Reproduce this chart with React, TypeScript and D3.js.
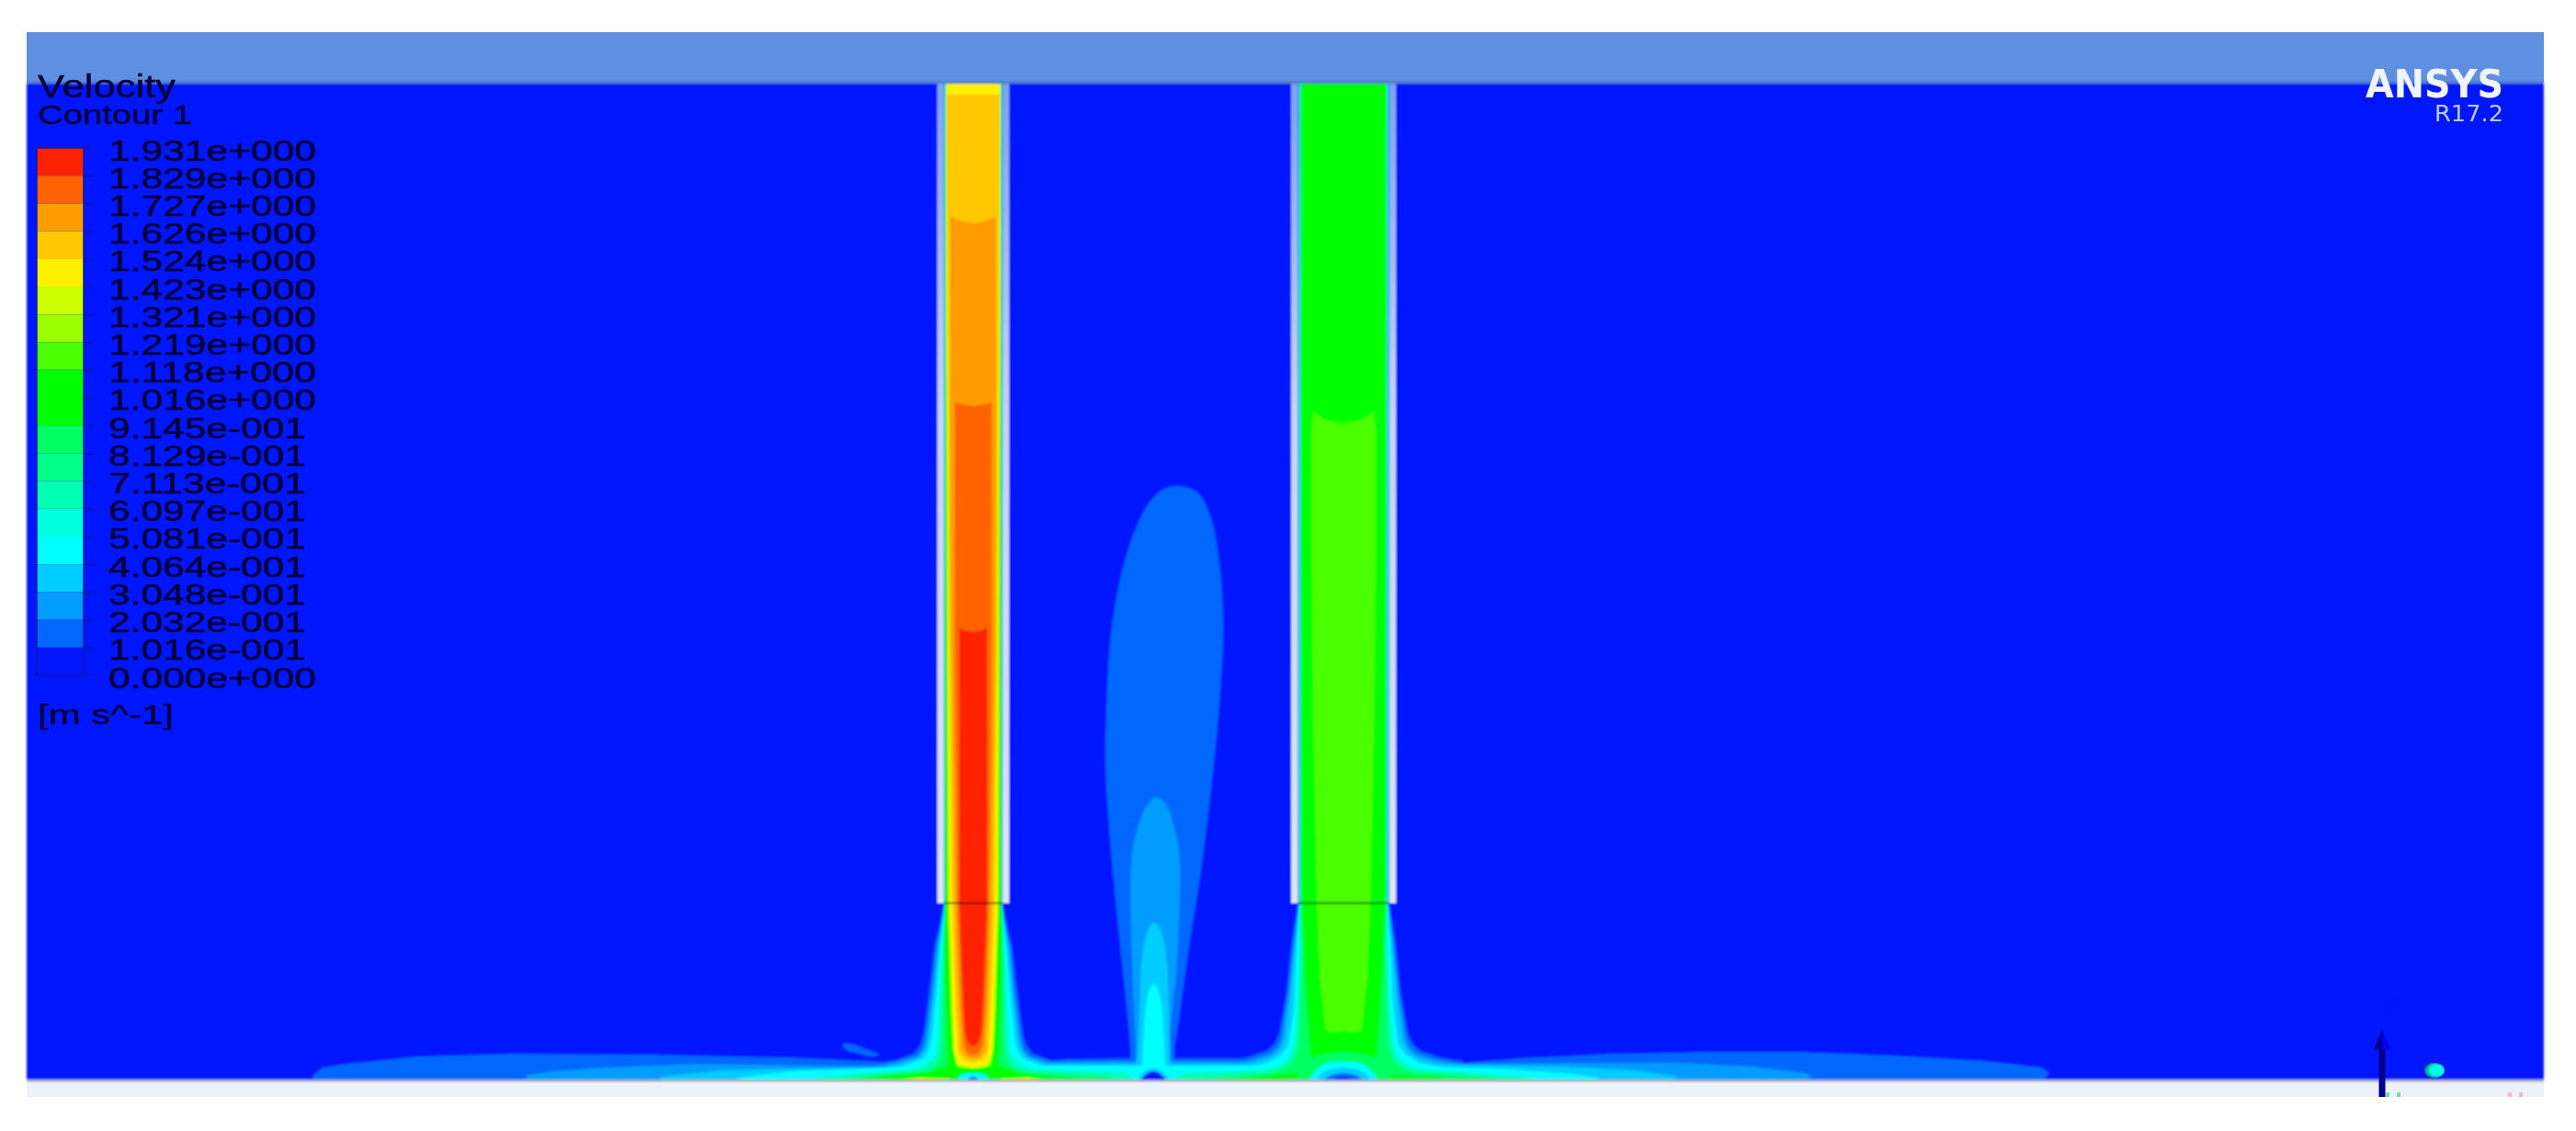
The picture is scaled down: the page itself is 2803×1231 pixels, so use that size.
import React, { useEffect, useRef } from 'react';
import * as d3 from 'd3';

type Pt = [number, number];

const width = 2803;
const height = 1231;

// legend, top to bottom
const legendLabels = [
  '1.931e+000', '1.829e+000', '1.727e+000', '1.626e+000', '1.524e+000',
  '1.423e+000', '1.321e+000', '1.219e+000', '1.118e+000', '1.016e+000',
  '9.145e-001', '8.129e-001', '7.113e-001', '6.097e-001', '5.081e-001',
  '4.064e-001', '3.048e-001', '2.032e-001', '1.016e-001', '0.000e+000',
];
const levels = legendLabels.map(Number);

// band colours, lowest velocity first
const bandColors = [
  '#0018ff', '#0068ff', '#009cff', '#00ccff', '#00ffff', '#00ffdc', '#00ffb0',
  '#00ff88', '#00ff60', '#00ff00', '#00ff00', '#48ff00', '#9cff00', '#ccff00',
  '#fff000', '#ffc800', '#ff9c00', '#ff6400', '#ff2000',
];

// domain extents, read in reference pixels
const domainX = [29, 2768];
const domainY = [90, 1176];
const floorBottom = 1194;
const frameTop = 35;

// jets: half width against y, one list per contour level
const leftJetCenter = 1059;
const leftJetBands: [number, Pt[]][] = [
  [1, [[31.5, 90], [31.5, 983], [36, 1005], [42, 1030], [48, 1080], [54, 1125], [58, 1138], [65, 1147], [85, 1154], [110, 1158], [110, 1180]]],
  [2, [[31.5, 90], [31.5, 983], [35, 1005], [40, 1030], [45, 1080], [52, 1130], [55, 1142], [62, 1150], [85, 1156], [105, 1160], [105, 1180]]],
  [3, [[31, 90], [31, 983], [34, 1005], [38, 1030], [43, 1080], [49, 1130], [52, 1142], [59, 1151], [80, 1158], [100, 1162], [100, 1180]]],
  [4, [[31, 90], [31, 983], [33, 1005], [36, 1030], [40, 1080], [45, 1130], [48, 1142], [54, 1152], [75, 1160], [100, 1164], [100, 1180]]],
  [6, [[30.5, 90], [31, 983], [34, 1030], [36, 1080], [38, 1130], [40, 1145], [44, 1153], [60, 1163], [90, 1168], [90, 1180]]],
  [8, [[30, 90], [31, 983], [32, 1030], [33, 1080], [34, 1130], [35, 1148], [38, 1157], [50, 1166], [80, 1170], [80, 1180]]],
  [10, [[30, 90], [30.6, 983], [30.6, 1060], [28, 1150], [28, 1160], [50, 1168], [70, 1172], [70, 1180]]],
  [13, [[29.5, 90], [27.5, 983], [24, 1097], [22, 1140], [18, 1160], [10, 1162], [0, 1163]]],
  [14, [[29, 90], [29, 300], [28, 500], [25.6, 983], [22, 1097], [20, 1150], [14, 1158], [7, 1160], [0, 1161]]],
  [15, [[0, 103], [29, 103], [28, 240], [27, 440], [26, 700], [23, 983], [19, 1097], [16, 1146], [10, 1154], [5, 1155.5], [0, 1156]]],
  [16, [[0, 243], [12, 241], [25, 236], [25, 440], [24, 700], [20, 983], [16, 1097], [13, 1143], [8, 1150], [4, 1151.5], [0, 1152]]],
  [17, [[0, 442], [12, 440], [20, 438], [20, 683], [19, 800], [17, 983], [13, 1097], [10, 1137], [6, 1146], [3, 1147.5], [0, 1148]]],
  [18, [[0, 688], [10, 686], [15, 683], [15, 983], [12, 1063], [9, 1123], [7, 1131], [5, 1135], [2.5, 1138], [0, 1139]]],
];

const rightJetCenter = 1462;
const rightJetBands: [number, Pt[]][] = [
  [1, [[49, 90], [49, 983], [53, 1005], [57, 1030], [62, 1080], [70, 1125], [75, 1136], [84, 1144], [106, 1151], [130, 1155], [130, 1180]]],
  [2, [[49, 90], [49, 983], [52, 1005], [55, 1030], [60, 1080], [68, 1130], [72, 1140], [80, 1147], [104, 1154], [130, 1158], [130, 1180]]],
  [3, [[48.5, 90], [48.5, 983], [53, 1030], [58, 1080], [64, 1130], [69, 1142], [78, 1150], [100, 1157], [130, 1160], [130, 1180]]],
  [4, [[48, 90], [48, 983], [51, 1030], [54, 1097], [60, 1137], [68, 1148], [83, 1157], [110, 1162], [110, 1180]]],
  [6, [[47.5, 90], [47.5, 983], [48, 1030], [50, 1097], [54, 1137], [60, 1152], [70, 1160], [95, 1166], [95, 1180]]],
  [8, [[47, 90], [47, 983], [45, 1030], [47, 1097], [49, 1137], [53, 1152], [60, 1160], [80, 1170], [80, 1180]]],
  [10, [[46, 90], [45, 983], [42, 1063], [37.5, 1130], [35, 1150], [32, 1156], [16, 1159], [0, 1160]]],
  [11, [[0, 461], [20, 457], [33, 448], [35, 470], [35, 600], [33, 800], [29, 983], [26, 1063], [20, 1120], [15, 1124], [0, 1122]]],
];

// plume between the jets, outlines in x, y
const plumeBands: [number, Pt[]][] = [
  [1, [[1230, 1180], [1230, 1143], [1215, 991], [1207, 902], [1203, 835], [1205, 745], [1209, 690], [1219, 630], [1232, 585], [1250, 548], [1267, 532], [1283, 529], [1303, 536], [1318, 565], [1327, 615], [1331, 680], [1328, 750], [1322, 820], [1314, 890], [1307, 946], [1293, 1036], [1282, 1116], [1278, 1143], [1278, 1180]]],
  [2, [[1236, 1180], [1236, 1143], [1233, 1080], [1230, 969], [1232, 929], [1238, 900], [1249, 875], [1258, 868], [1267, 873], [1277, 898], [1283, 929], [1284, 969], [1280, 1058], [1273, 1125], [1272, 1147], [1272, 1180]]],
  [3, [[1238, 1180], [1238, 1147], [1240, 1103], [1242, 1049], [1246, 1022], [1251, 1008], [1256, 1004], [1261, 1008], [1266, 1022], [1270, 1049], [1272, 1103], [1273, 1147], [1273, 1180]]],
  [4, [[1243, 1180], [1243, 1161], [1245, 1116], [1248, 1088], [1252, 1074], [1255, 1071], [1259, 1074], [1263, 1088], [1266, 1116], [1268, 1161], [1268, 1180]]],
];

// wall jet along the floor, top edge of each contour
const floorBands: [number, Pt[]][] = [
  [1, [[341, 1170], [351, 1162], [377, 1158], [453, 1150], [555, 1147], [708, 1148], [861, 1151], [963, 1156], [1000, 1157], [1100, 1157], [1160, 1153], [1220, 1152], [1290, 1152], [1350, 1152], [1400, 1153], [1551, 1160], [1576, 1158], [1653, 1152], [1755, 1147], [1857, 1145], [1959, 1145], [2061, 1149], [2163, 1155], [2222, 1162], [2230, 1168], [2225, 1174]]],
  [2, [[573, 1170], [600, 1166], [657, 1162], [759, 1158], [912, 1160], [990, 1160], [1120, 1156], [1220, 1155], [1290, 1155], [1400, 1156], [1541, 1159], [1602, 1158], [1704, 1157], [1832, 1157], [1908, 1161], [1965, 1168], [1972, 1172], [1965, 1175]]],
  [3, [[718, 1172], [785, 1165], [861, 1163], [989, 1162], [1120, 1158], [1220, 1158], [1290, 1158], [1400, 1158], [1602, 1159], [1704, 1161], [1781, 1165], [1827, 1172], [1820, 1175]]],
  [4, [[803, 1173], [861, 1166], [938, 1163], [999, 1161], [1120, 1160], [1220, 1160], [1290, 1160], [1400, 1160], [1551, 1161], [1628, 1163], [1704, 1168], [1740, 1173], [1735, 1176]]],
  [6, [[880, 1175], [940, 1168], [1000, 1164], [1130, 1164], [1225, 1168], [1235, 1176]]],
  [6, [[1275, 1176], [1290, 1168], [1400, 1164], [1560, 1165], [1620, 1169], [1680, 1175]]],
  [8, [[915, 1176], [965, 1169], [1010, 1166], [1130, 1168], [1200, 1172], [1220, 1176]]],
  [8, [[1300, 1176], [1340, 1172], [1400, 1167], [1560, 1168], [1610, 1172], [1640, 1176]]],
  [10, [[938, 1176], [963, 1171], [1020, 1167], [1095, 1167], [1130, 1170], [1180, 1176]]],
  [10, [[1333, 1176], [1380, 1171], [1410, 1168], [1515, 1170], [1560, 1172], [1582, 1176]]],
  [14, [[973, 1176], [1000, 1173], [1032, 1174], [1035, 1176]]],
  [14, [[1086, 1176], [1090, 1174], [1120, 1173], [1141, 1176]]],
];

// small detached patch left of the first jet
const patchBand: [number, Pt[]] = [1, [[917, 1137], [925, 1136], [940, 1141], [956, 1148], [950, 1150], [935, 1147], [920, 1142]]];

// slow pockets under each jet: centre, level, half width against y
const pockets: [number, number, Pt[]][] = [
  [1059, 4, [[0, 1168], [12, 1169], [17, 1174], [18, 1180]]],
  [1059, 1, [[0, 1172], [5, 1174], [7, 1180]]],
  [1255, 3, [[0, 1163], [10, 1166], [17, 1176], [18, 1180]]],
  [1255, 0, [[0, 1166], [6, 1168], [13, 1175], [14, 1180]]],
  [1462, 8, [[0, 1145], [25, 1148], [42, 1156], [50, 1170], [52, 1180]]],
  [1462, 4, [[0, 1155], [20, 1158], [32, 1167], [38, 1180]]],
  [1462, 3, [[0, 1162], [18, 1165], [27, 1172], [31, 1180]]],
  [1462, 1, [[0, 1168], [12, 1170], [20, 1175], [22, 1180]]],
  [1462, 0, [[0, 1172], [8, 1174], [12, 1177], [12, 1180]]],
];

// nozzle walls: centre, inner and outer half width, exit y
const nozzles = [
  { center: leftJetCenter, inner: 32, outer: 39 },
  { center: rightJetCenter, inner: 49.5, outer: 57 },
];
const nozzleExit = 983;

// triad in the lower right corner
const triadShaft = { x: 2592, top: 1140, bottom: floorBottom };
const triadHeadLeft: Pt[] = [[2592, 1121], [2583, 1142], [2592, 1142]];
const triadHeadRight: Pt[] = [[2592, 1121], [2602, 1142], [2592, 1142]];
const triadDot = { x: 2649, y: 1165 };
const triadTicks = [
  { x: 2598, color: '#7fd6a0' }, { x: 2610, color: '#7fd6a0' },
  { x: 2731, color: '#f5b8c4' }, { x: 2743, color: '#f5b8c4' },
];

const x = d3.scaleLinear().domain(domainX).range(domainX);
const y = d3.scaleLinear().domain(domainY).range(domainY);
const legendY = d3.scaleLinear().domain([0, levels[0]]).range([735, 161]);

const contour = d3.line<Pt>()
  .x((d) => x(d[0]))
  .y((d) => y(d[1]))
  .curve(d3.curveLinearClosed);

const smoothContour = d3.line<Pt>()
  .x((d) => x(d[0]))
  .y((d) => y(d[1]))
  .curve(d3.curveCatmullRomClosed.alpha(0.5));

const mirror = (center: number, profile: Pt[]): Pt[] => [
  ...profile.map(([w, v]): Pt => [center + w, v]),
  ...profile.slice().reverse().map(([w, v]): Pt => [center - w, v]),
];

const onFloor = (top: Pt[]): Pt[] => [
  ...top,
  [top[top.length - 1][0], 1182],
  [top[0][0], 1182],
];

const fieldShapes: { level: number; d: string | null }[] = [
  ...floorBands.map(([level, top]) => ({ level, d: contour(onFloor(top)) })),
  ...plumeBands.map(([level, points]) => ({ level, d: smoothContour(points) })),
  { level: patchBand[0], d: smoothContour(patchBand[1]) },
  ...leftJetBands.map(([level, p]) => ({ level, d: contour(mirror(leftJetCenter, p)) })),
  ...rightJetBands.map(([level, p]) => ({ level, d: contour(mirror(rightJetCenter, p)) })),
].sort((a, b) => a.level - b.level);

const ink = '#000038';
const sans = '"Liberation Sans", Arial, sans-serif';

export default function App() {
  const axisRef = useRef<SVGGElement>(null);

  useEffect(() => {
    const axis = d3.axisRight(legendY)
      .tickValues(levels)
      .tickSize(10)
      .tickPadding(17)
      .tickFormat((_, i) => legendLabels[i]);
    const g = d3.select(axisRef.current).call(axis);
    g.select('.domain').remove();
    g.selectAll('.tick line').attr('stroke', '#0a1aa0').attr('stroke-width', 1.5);
    g.selectAll<SVGTextElement, number>('.tick text')
      .attr('font-family', sans)
      .attr('font-size', 31)
      .attr('fill', ink)
      .attr('stroke', ink)
      .attr('stroke-width', 0.5)
      .attr('dy', 13)
      .attr('textLength', (_, i) => (legendLabels[i].includes('+') ? 226 : 215))
      .attr('lengthAdjust', 'spacingAndGlyphs');
  }, []);

  const legendBands = levels.slice(0, -1).map((top, i) => ({
    top,
    bottom: levels[i + 1],
    color: bandColors[bandColors.length - 1 - i],
  }));

  return (
    <svg
      width={width}
      height={height}
      style={{ position: 'absolute', left: 0, top: 0, background: '#fff' }}
    >
      <defs>
        <filter id="soft" filterUnits="userSpaceOnUse" x="0" y="0" width={width} height={height}>
          <feGaussianBlur stdDeviation="1.3" />
        </filter>
        <filter id="softText" filterUnits="userSpaceOnUse" x="0" y="0" width={width} height={height}>
          <feGaussianBlur stdDeviation="0.7" />
        </filter>
        <clipPath id="domain">
          <rect x={x(domainX[0])} y={y(domainY[0])} width={x(domainX[1]) - x(domainX[0])} height={y(domainY[1]) - y(domainY[0])} />
        </clipPath>
        <linearGradient id="wall" x1="0" y1="0" x2="0" y2="1">
          <stop offset="0" stopColor="#7ea4ec" />
          <stop offset="0.4" stopColor="#c4d4f6" />
          <stop offset="1" stopColor="#dce5fa" />
        </linearGradient>
        <radialGradient id="dot" cx="0.62" cy="0.5" r="0.6">
          <stop offset="0.5" stopColor="#00ffee" />
          <stop offset="1" stopColor="#008a70" />
        </radialGradient>
      </defs>

      {/* frame */}
      <rect x={x(domainX[0])} y={frameTop} width={x(domainX[1]) - x(domainX[0])} height={y(domainY[0]) - frameTop} fill="#5f8fe0" />
      <rect x={x(domainX[0])} y={y(domainY[1])} width={x(domainX[1]) - x(domainX[0])} height={floorBottom - y(domainY[1])} fill="#edf1f9" />

      {/* contours */}
      <g filter="url(#soft)">
        <g clipPath="url(#domain)">
          <rect x={x(domainX[0])} y={y(domainY[0])} width={x(domainX[1]) - x(domainX[0])} height={y(domainY[1]) - y(domainY[0])} fill={bandColors[0]} />
          {fieldShapes.map((s, i) => (
            <path key={i} d={s.d ?? ''} fill={bandColors[s.level]} />
          ))}
          {pockets.map(([center, level, p], i) => (
            <path key={i} d={smoothContour(mirror(center, p)) ?? ''} fill={bandColors[level]} />
          ))}
          {nozzles.map((n) =>
            [-1, 1].map((side) => (
              <rect
                key={`${n.center}${side}`}
                x={x(side < 0 ? n.center - n.outer : n.center + n.inner)}
                y={y(domainY[0])}
                width={n.outer - n.inner}
                height={y(nozzleExit) - y(domainY[0])}
                fill="url(#wall)"
              />
            )),
          )}
          {nozzles.map((n) => (
            <line key={n.center} x1={x(n.center - n.inner)} x2={x(n.center + n.inner)} y1={y(nozzleExit)} y2={y(nozzleExit)} stroke="#000" strokeOpacity={0.55} strokeWidth={2} />
          ))}
        </g>
        <line x1={x(domainX[0])} x2={x(domainX[1])} y1={y(domainY[0])} y2={y(domainY[0])} stroke="#4a78c8" strokeWidth={2.5} />
        <line x1={x(domainX[0])} x2={x(domainX[1])} y1={y(domainY[1])} y2={y(domainY[1])} stroke="#a2a6b4" strokeWidth={2.5} />
      </g>

      {/* legend */}
      <g filter="url(#softText)">
        {legendBands.map((b) => (
          <rect key={b.top} x={40} width={51} y={legendY(b.top)} height={legendY(b.bottom) - legendY(b.top)} fill={b.color} />
        ))}
        <rect x={40} width={51} y={legendY(levels[0])} height={legendY(0) - legendY(levels[0])} fill="none" stroke="#0a1aa0" strokeWidth={1.5} />
        <g ref={axisRef} transform="translate(91,0)" />
        <g fontFamily={sans} fill={ink} stroke={ink} strokeWidth={0.4}>
          <text x={41} y={106} fontSize={35} textLength={150} lengthAdjust="spacingAndGlyphs">Velocity</text>
          <text x={41} y={135} fontSize={29} textLength={168} lengthAdjust="spacingAndGlyphs">Contour 1</text>
          <text x={41} y={788} fontSize={29} textLength={148} lengthAdjust="spacingAndGlyphs">[m s^-1]</text>
        </g>
      </g>

      {/* logo */}
      <g fontFamily='"DejaVu Sans", sans-serif' filter="url(#softText)">
        <text x={2574} y={106} fontSize={43} fontWeight="bold" fill="#f0f4ff" textLength={150} lengthAdjust="spacingAndGlyphs">ANSYS</text>
        <text x={2649} y={132} fontSize={25} fill="#bccbff" textLength={75} lengthAdjust="spacingAndGlyphs">R17.2</text>
      </g>

      {/* triad */}
      <g filter="url(#softText)">
        <text x={2594} y={1103} fontSize={26} fontFamily={sans} fill="#0014f4">Z</text>
        {triadTicks.map((t) => (
          <rect key={t.x} x={t.x - 2} y={floorBottom - 5} width={4} height={5} fill={t.color} />
        ))}
        <rect x={triadShaft.x - 3.5} y={triadShaft.top} width={7} height={triadShaft.bottom - triadShaft.top} fill="#00008c" />
        <polygon points={triadHeadLeft.join(' ')} fill="#00008c" />
        <polygon points={triadHeadRight.join(' ')} fill="#0000f0" />
        <ellipse cx={triadDot.x} cy={triadDot.y} rx={11} ry={8} fill="url(#dot)" />
      </g>
    </svg>
  );
}
